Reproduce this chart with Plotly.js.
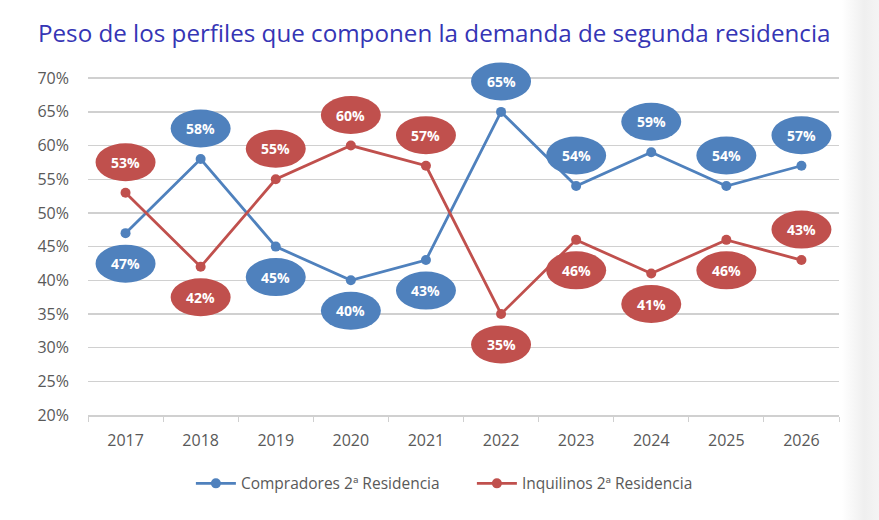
<!DOCTYPE html>
<html>
<head>
<meta charset="utf-8">
<script src="https://cdn.plot.ly/plotly-3.0.1.min.js"></script>
<style>
  html, body { margin: 0; padding: 0; }
  body {
    width: 879px; height: 520px; overflow: hidden;
    background: linear-gradient(to right, #ffffff 0px, #ffffff 842px, #efefef 864px, #f4f4f4 879px);
  }
  #chart { width: 879px; height: 520px; }
</style>
</head>
<body>
<div id="chart"></div>
<script>
// Years on the category axis
const years = ['2017', '2018', '2019', '2020', '2021', '2022', '2023', '2024', '2025', '2026'];

// Share of each profile in second-home demand (%)
const compradores = [47, 58, 45, 40, 43, 65, 54, 59, 54, 57];
const inquilinos  = [53, 42, 55, 60, 57, 35, 46, 41, 46, 43];

// Label placement: +1 above the point, -1 below
const compradoresSide = [-1, 1, -1, -1, -1, 1, 1, 1, 1, 1];
const inquilinosSide  = [1, -1, 1, 1, 1, -1, -1, -1, -1, 1];

const seriesNames = ['Compradores 2ª Residencia', 'Inquilinos 2ª Residencia'];
const blue = '#4F81BD';
const red = '#C0504D';

const textFont = 'Open Sans, Liberation Sans, sans-serif';

function lineTrace(name, values, color) {
  return {
    x: years, y: values, name: name,
    type: 'scatter', mode: 'lines+markers',
    line: { color: color, width: 2.8 },
    marker: { color: color, size: 10 },
    hoverinfo: 'skip'
  };
}

// Elliptical value badges, offset in pixels from each data point
const shapes = [];
const annotations = [];
function addBadges(values, sides, color) {
  values.forEach((v, i) => {
    const dy = 30.5 * sides[i];
    shapes.push({
      type: 'circle', layer: 'above',
      xref: 'x', yref: 'y',
      xsizemode: 'pixel', ysizemode: 'pixel',
      xanchor: i, yanchor: v,
      x0: -30, x1: 30, y0: dy - 19, y1: dy + 19,
      fillcolor: color, line: { width: 0 }
    });
    annotations.push({
      x: i, y: v, xref: 'x', yref: 'y',
      yshift: dy, showarrow: false,
      text: '<b>' + v + '%</b>',
      font: { family: textFont, size: 14, color: '#ffffff' }
    });
  });
}
addBadges(compradores, compradoresSide, blue);
addBadges(inquilinos, inquilinosSide, red);

const data = [
  lineTrace(seriesNames[0], compradores, blue),
  lineTrace(seriesNames[1], inquilinos, red)
];

const layout = {
  width: 879, height: 520,
  paper_bgcolor: 'rgba(0,0,0,0)',
  plot_bgcolor: 'rgba(0,0,0,0)',
  // the value axis runs a little past 70% so badges above the top line stay visible
  margin: { l: 88, r: 40, t: 58, b: 105 },
  title: {
    text: 'Peso de los perfiles que componen la demanda de segunda residencia',
    font: { family: textFont, size: 24.2, color: '#3535B5' },
    x: 0.494, xanchor: 'center', y: 0.935, yanchor: 'middle'
  },
  xaxis: {
    type: 'category',
    range: [-0.5, 9.5],
    tickson: 'boundaries',
    ticks: 'outside', ticklen: 5, tickcolor: '#d0d0d0',
    showline: true, linecolor: '#d0d0d0', linewidth: 1.5,
    showgrid: false, zeroline: false,
    ticklabelstandoff: 10,
    tickfont: { family: textFont, size: 16, color: '#595959' }
  },
  yaxis: {
    range: [20, 73], tickmode: 'linear', tick0: 20, dtick: 5,
    ticksuffix: '%',
    showgrid: true, gridcolor: '#d0d0d0', gridwidth: 1.5,
    zeroline: false, showline: false,
    ticks: '', ticklabelstandoff: 18,
    tickfont: { family: textFont, size: 16, color: '#595959' }
  },
  legend: {
    orientation: 'h', x: 0.137, xanchor: 'left', y: -0.145, yanchor: 'top',
    font: { family: textFont, size: 15.5, color: '#595959' },
    itemwidth: 40, tracegroupgap: 0,
    entrywidth: 226, entrywidthmode: 'pixels'
  },
  shapes: shapes,
  annotations: annotations,
  showlegend: true
};

Plotly.newPlot('chart', data, layout, { displayModeBar: false, staticPlot: true });
</script>
</body>
</html>
